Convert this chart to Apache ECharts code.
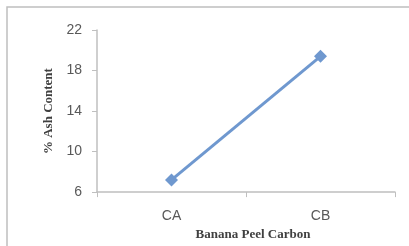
<!DOCTYPE html>
<html>
<head>
<meta charset="utf-8">
<script src="https://cdn.jsdelivr.net/npm/echarts@6/dist/echarts.min.js"></script>
<style>
  html, body { margin: 0; padding: 0; background: #fff; }
  #chart { width: 409px; height: 246px; }
</style>
</head>
<body>
<div id="chart"></div>
<script>
// data
const categories = ["CA", "CB"];
const ashContent = [7.2, 19.4];
const yTicks = [6, 10, 14, 18, 22];

const myChart = echarts.init(document.getElementById("chart"));
const option = {
  animation: false,
  graphic: [
    {
      type: "rect",
      shape: { x: 7, y: 7, width: 430, height: 260 },
      style: { fill: "none", stroke: "#bfbfbf", lineWidth: 1.5 },
      silent: true,
    },
  ],
  grid: { left: 97, right: 14, top: 30, bottom: 53 },
  xAxis: {
    type: "category",
    data: categories,
    boundaryGap: true,
    name: "Banana Peel Carbon",
    nameLocation: "middle",
    nameGap: 31,
    nameTextStyle: {
      fontFamily: "Liberation Serif",
      fontWeight: "bold",
      fontSize: 13,
      color: "#404040",
      padding: [0, 0, 0, 14],
    },
    axisLine: { lineStyle: { color: "#bfbfbf", width: 1.5 } },
    axisTick: { show: true, length: 5, lineStyle: { color: "#bfbfbf" } },
    axisLabel: {
      fontFamily: "Liberation Sans",
      fontSize: 14,
      color: "#595959",
      margin: 17,
    },
  },
  yAxis: {
    type: "value",
    min: yTicks[0],
    max: yTicks[yTicks.length - 1],
    interval: 4,
    name: "% Ash Content",
    nameLocation: "middle",
    nameGap: 38,
    nameTextStyle: {
      fontFamily: "Liberation Serif",
      fontWeight: "bold",
      fontSize: 13,
      color: "#404040",
    },
    axisLine: { show: true, lineStyle: { color: "#bfbfbf", width: 1.5 } },
    axisTick: { show: true, length: 5, lineStyle: { color: "#bfbfbf" } },
    splitLine: { show: false },
    axisLabel: {
      fontFamily: "Liberation Sans",
      fontSize: 14,
      color: "#595959",
      margin: 15,
    },
  },
  series: [
    {
      type: "line",
      data: ashContent,
      symbol: "diamond",
      symbolSize: 13,
      itemStyle: { color: "#6f98cf" },
      lineStyle: { color: "#6f98cf", width: 3 },
    },
  ],
};
myChart.setOption(option);
</script>
</body>
</html>
